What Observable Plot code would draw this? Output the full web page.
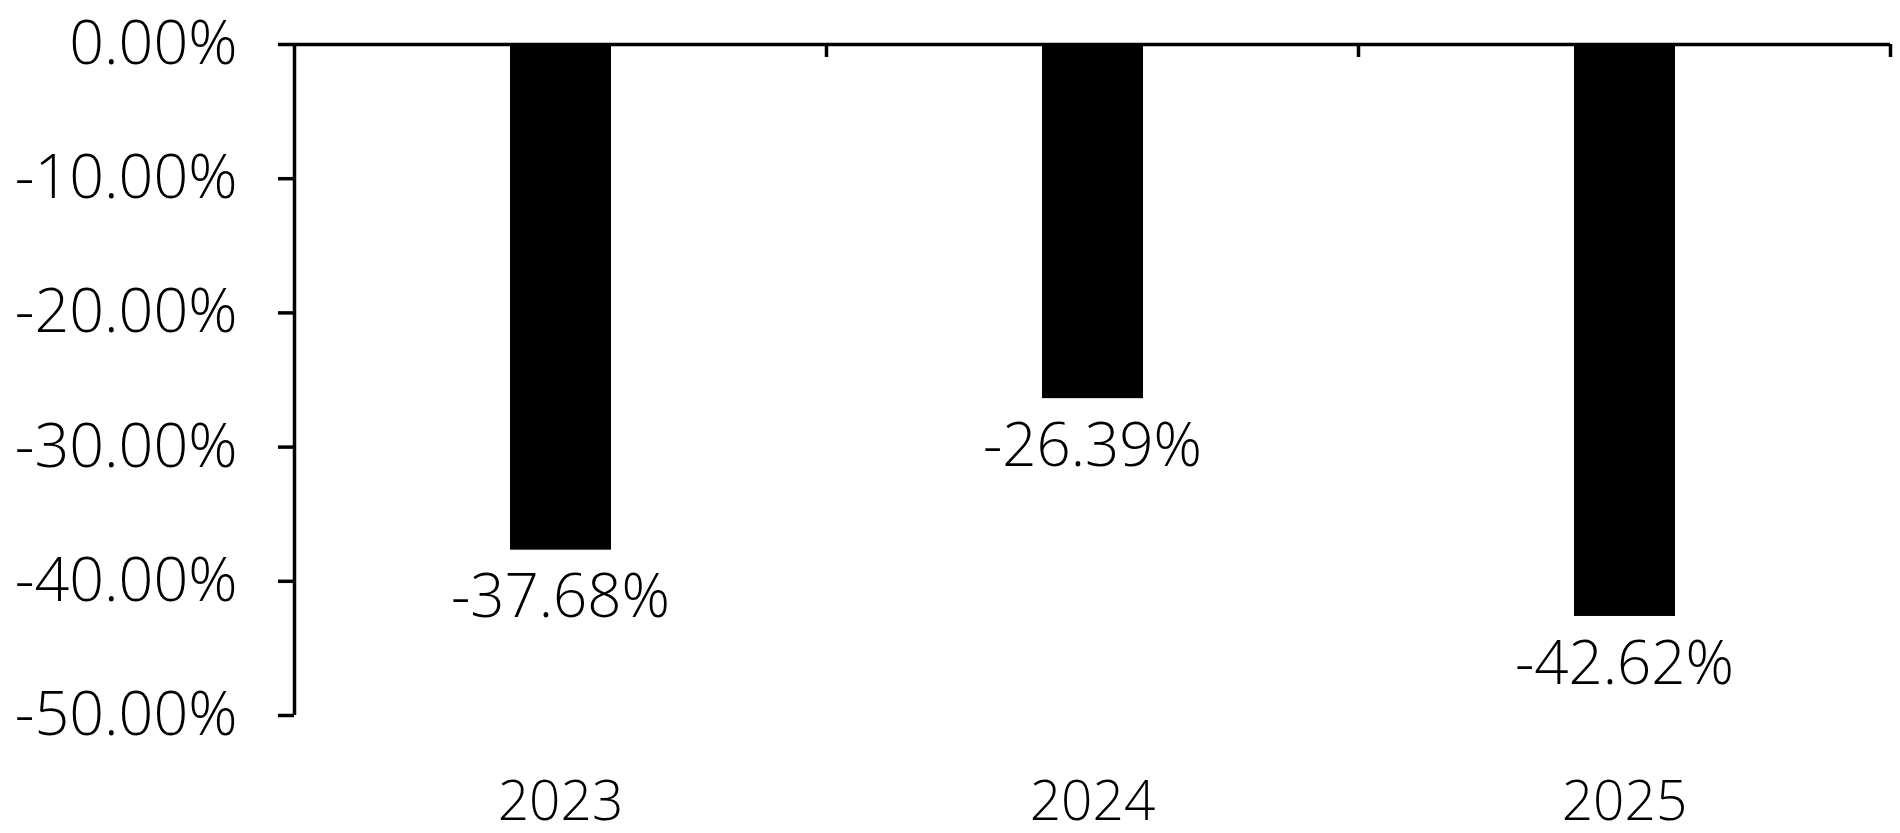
<!DOCTYPE html>
<html><head><meta charset="utf-8">
<script src="https://cdn.jsdelivr.net/npm/d3@7"></script>
<script src="https://cdn.jsdelivr.net/npm/@observablehq/plot@0.6"></script>
<style>html,body{margin:0;padding:0;background:#fff;} svg{display:block}</style>
</head><body><div id="chart"></div>
<script>
const years = ["2023", "2024", "2025"];
const values = [-37.68, -26.39, -42.62];
const yTicks = [0, -10, -20, -30, -40, -50];
const bandEdges = [1, 2, 3];
const data = years.map((year, i) => ({year, i, value: values[i]}));
const pct = v => v.toFixed(2) + "%";
const FONT = "'Open Sans', 'Noto Sans', sans-serif";
const FS = 60;
const LW = 3.5;

const chart = Plot.plot({
  width: 1900, height: 833,
  marginLeft: 294, marginRight: 10, marginTop: 44, marginBottom: 118,
  style: {fontFamily: FONT, fontSize: FS + "px", fontWeight: 350, color: "#000", background: "#fff"},
  x: {domain: [0, 3], axis: null},
  y: {domain: [-50, 0], axis: null},
  marks: [
    Plot.rectY(data, {x1: d => d.i, x2: d => d.i + 1, y1: 0, y2: "value", fill: "#000", insetLeft: 216, insetRight: 215}),
    Plot.ruleX([0], {stroke: "#000", strokeWidth: LW}),
    Plot.ruleY([0], {stroke: "#000", strokeWidth: LW}),
    Plot.axisY({anchor: "left", label: null, ticks: yTicks, tickFormat: pct, tickSize: 16, tickPadding: 41, strokeWidth: LW, fontSize: 61}),
    Plot.axisX({anchor: "bottom", frameAnchor: "top", label: null, ticks: bandEdges, tickSize: 13, tickFormat: () => "", strokeWidth: LW}),
    Plot.text(data, {x: d => d.i + 0.5, y: "value", text: d => pct(d.value), dy: 48, fontSize: FS}),
    Plot.text(data, {x: d => d.i + 0.5, frameAnchor: "bottom", text: "year", dy: 104, fontSize: 55})
  ]
});
document.getElementById("chart").appendChild(chart);
</script></body></html>
